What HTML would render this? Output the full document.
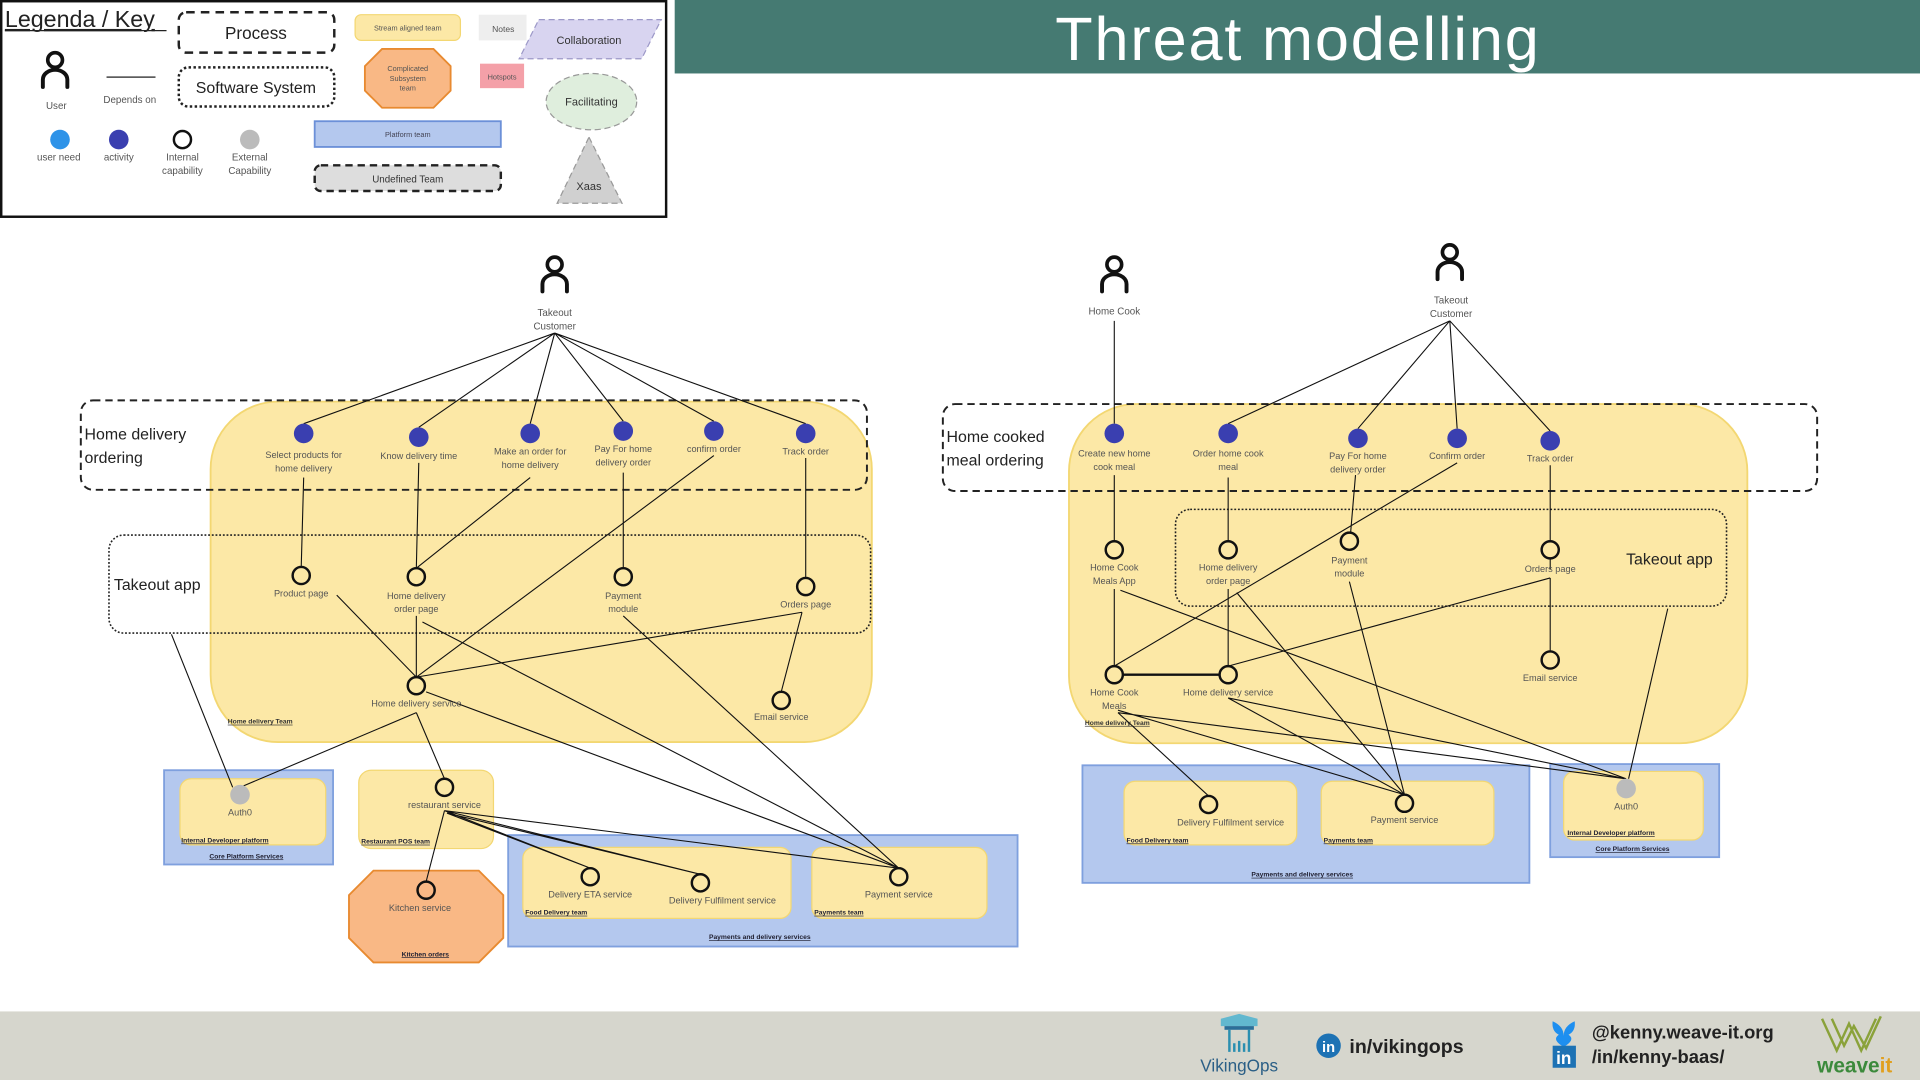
<!DOCTYPE html>
<html><head><meta charset="utf-8"><style>
html,body{margin:0;padding:0;background:#fff;}
svg{display:block;}
text{font-family:"Liberation Sans","DejaVu Sans",sans-serif;}
</style></head><body>
<svg width="1920" height="1080" viewBox="0 0 1568 882" xmlns="http://www.w3.org/2000/svg">
<defs>
<g id="user"><circle cx="0" cy="0" r="6" fill="none" stroke="#111" stroke-width="3"/><path d="M-10,22 v-6 a10,8 0 0 1 20,0 v6" fill="none" stroke="#111" stroke-width="3.2" stroke-linecap="round"/></g>
</defs>
<rect width="1568" height="882" fill="#fff"/>
<!-- header -->
<rect x="551" y="0" width="1017" height="60" fill="#457a72"/>
<text x="1060" y="49" font-size="50" letter-spacing="1.5" fill="#fff" text-anchor="middle">Threat modelling</text>
<!-- footer -->
<rect x="0" y="826" width="1568" height="56" fill="#d6d6cd"/>
<g>
<path d="M997,832 l15,-4 l15,4 v6 h-30z" fill="#62b8cf"/>
<rect x="1000" y="838" width="24" height="3" fill="#2b6f99"/>
<path d="M1004,841 v18 M1020,841 v18 M1008,852 v7 M1012,850 v9 M1016,852 v7" stroke="#2b8fb0" stroke-width="2"/>
<text x="1012" y="875" font-size="14" fill="#2b5f86" text-anchor="middle">VikingOps</text>
<circle cx="1085" cy="854" r="10" fill="#1d72b4"/><text x="1085" y="859" font-size="12" font-weight="bold" fill="#fff" text-anchor="middle">in</text>
<text x="1102" y="860" font-size="16" font-weight="bold" fill="#222">in/vikingops</text>
<path d="M1268,834 q9,4 9,12 q0,-8 9,-12 q1,8 -5,11 q6,4 -4,10 q0,-3 0,-6 q0,3 0,6 q-10,-6 -4,-10 q-6,-3 -5,-11z" fill="#1e8ff0"/>
<rect x="1268" y="854" width="19" height="18" fill="#1d72b4"/><text x="1277" y="869" font-size="14" font-weight="bold" fill="#fff" text-anchor="middle">in</text>
<text x="1300" y="848" font-size="15" font-weight="bold" fill="#222">@kenny.weave-it.org</text>
<text x="1300" y="868" font-size="15" font-weight="bold" fill="#222">/in/kenny-baas/</text>
<path d="M1488,832 l12,26 l10,-22 l10,22 l12,-26 M1496,832 l10,22 l8,-16 l10,18 l12,-26" fill="none" stroke="#8aa23a" stroke-width="2"/>
<text x="1484" y="876" font-size="17" font-weight="bold" fill="#3c8a3c">weave<tspan fill="#e0a020">it</tspan></text>
</g>

<!-- legend -->
<rect x="1" y="1" width="543" height="176" fill="#fff" stroke="#111" stroke-width="2"/>
<text x="4" y="22" font-size="19" fill="#222" text-decoration="underline">Legenda / Key</text>
<line x1="4" y1="25" x2="136" y2="25" stroke="#222" stroke-width="1"/>
<rect x="146" y="10" width="127" height="33" rx="6" fill="#fff" stroke="#222" stroke-width="2" stroke-dasharray="7,5"/>
<text x="209" y="32" font-size="14" fill="#222" text-anchor="middle">Process</text>
<rect x="146" y="55" width="127" height="32" rx="8" fill="#fff" stroke="#222" stroke-width="2" stroke-dasharray="2,2"/>
<text x="209" y="76" font-size="13" fill="#222" text-anchor="middle">Software System</text>
<use href="#user" x="45" y="49"/>
<text x="46" y="89" font-size="8" fill="#555" text-anchor="middle">User</text>
<line x1="87" y1="63" x2="127" y2="63" stroke="#444" stroke-width="1.2"/>
<text x="106" y="84" font-size="8" fill="#555" text-anchor="middle">Depends on</text>
<circle cx="49" cy="114" r="8" fill="#2e93e8"/><text x="48" y="131" font-size="8" fill="#555" text-anchor="middle">user need</text>
<circle cx="97" cy="114" r="8" fill="#3a3fb0"/><text x="97" y="131" font-size="8" fill="#555" text-anchor="middle">activity</text>
<circle cx="149" cy="114" r="7" fill="#fff" stroke="#111" stroke-width="2"/><text x="149" y="131" font-size="8" fill="#555" text-anchor="middle">Internal</text><text x="149" y="142" font-size="8" fill="#555" text-anchor="middle">capability</text>
<circle cx="204" cy="114" r="8" fill="#bbb"/><text x="204" y="131" font-size="8" fill="#555" text-anchor="middle">External</text><text x="204" y="142" font-size="8" fill="#555" text-anchor="middle">Capability</text>
<rect x="290" y="12" width="86" height="21" rx="5" fill="#fce8a6" stroke="#f3d772"/>
<text x="333" y="25" font-size="6" fill="#555" text-anchor="middle">Stream aligned team</text>
<polygon points="312,40 354,40 368,54 368,74 354,88 312,88 298,74 298,54" fill="#f9b885" stroke="#e88a30" stroke-width="1.5"/>
<text x="333" y="58" font-size="6" fill="#555" text-anchor="middle">Complicated</text><text x="333" y="66" font-size="6" fill="#555" text-anchor="middle">Subsystem</text><text x="333" y="74" font-size="6" fill="#555" text-anchor="middle">team</text>
<rect x="391" y="12" width="39" height="21" fill="#eeeeee"/><text x="411" y="26" font-size="7" fill="#555" text-anchor="middle">Notes</text>
<rect x="392" y="52" width="36" height="20" fill="#f4a0a8"/><text x="410" y="65" font-size="6" fill="#555" text-anchor="middle">Hotspots</text>
<polygon points="440,16 540,16 524,48 424,48" fill="#d8d4f0" stroke="#9c98c8" stroke-dasharray="5,3"/>
<text x="481" y="36" font-size="9" fill="#333" text-anchor="middle">Collaboration</text>
<ellipse cx="483" cy="83" rx="37" ry="23" fill="#dfeedd" stroke="#999" stroke-dasharray="5,3"/>
<text x="483" y="86" font-size="9" fill="#333" text-anchor="middle">Facilitating</text>
<rect x="257" y="99" width="152" height="21" fill="#b4c8ee" stroke="#6c90d8" stroke-width="1.5"/>
<text x="333" y="112" font-size="6" fill="#445" text-anchor="middle">Platform team</text>
<rect x="257" y="135" width="152" height="21" rx="5" fill="#ddd" stroke="#222" stroke-width="2" stroke-dasharray="6,4"/>
<text x="333" y="149" font-size="8" fill="#333" text-anchor="middle">Undefined Team</text>
<polygon points="481,112 508,166 455,166" fill="#d0d0d0" stroke="#999" stroke-dasharray="5,3"/>
<text x="481" y="155" font-size="9" fill="#333" text-anchor="middle">Xaas</text>

<!-- LEFT DIAGRAM boxes -->
<rect x="172" y="328" width="540" height="278" rx="55" fill="#fce8a6" stroke="#f3d772" stroke-width="1.5"/>
<rect x="66" y="327" width="642" height="73" rx="10" fill="none" stroke="#222" stroke-width="1.6" stroke-dasharray="6,4"/>
<rect x="89" y="437" width="622" height="80" rx="12" fill="none" stroke="#222" stroke-width="1.3" stroke-dasharray="1.5,1.5"/>
<text x="69" y="359" font-size="13" fill="#222">Home delivery</text>
<text x="69" y="378" font-size="13" fill="#222">ordering</text>
<text x="93" y="482" font-size="13" fill="#222">Takeout app</text>
<text x="186" y="591" font-size="5.5" font-weight="bold" fill="#333" text-decoration="underline">Home delivery Team</text>

<rect x="134" y="629" width="138" height="77" fill="#b4c8ee" stroke="#7fa0de" stroke-width="1.5"/>
<rect x="147" y="636" width="119" height="54" rx="9" fill="#fce8a6" stroke="#f3d772"/>
<rect x="293" y="629" width="110" height="64" rx="10" fill="#fce8a6" stroke="#f3d772"/>
<polygon points="305,711 391,711 411,731 411,766 391,786 305,786 285,766 285,731" fill="#f9b885" stroke="#e88a30" stroke-width="1.5"/>
<rect x="415" y="682" width="416" height="91" fill="#b4c8ee" stroke="#7fa0de" stroke-width="1.5"/>
<rect x="427" y="692" width="219" height="58" rx="9" fill="#fce8a6" stroke="#f3d772"/>
<rect x="663" y="692" width="143" height="58" rx="9" fill="#fce8a6" stroke="#f3d772"/>

<!-- left lines -->
<g stroke="#111" stroke-width="0.9" fill="none">
<path d="M453,272 L248,346 M453,272 L342,349 M453,272 L433,346 M453,272 L509,344 M453,272 L583,344 M453,272 L658,346"/>
<path d="M248,390 L246,463 M342,378 L340,464 M433,390 L340,464 M509,386 L509,464 M583,372 L340,553 M658,374 L658,472"/>
<path d="M275,486 L340,553 M340,503 L340,553 M655,500 L340,553 M655,500 L638,565 M345,508 L734,709 M509,503 L734,709 M348,565 L734,709"/>
<path d="M140,518 L190,643 M340,582 L196,643 M340,582 L363,636 M363,662 L348,720 M363,662 L482,709 M365,664 L482,709 M363,662 L572,714 M365,664 L572,714 M363,662 L734,709"/>
</g>
<!-- left nodes -->
<use href="#user" x="453" y="216"/>
<text x="453" y="258" font-size="8" fill="#555" text-anchor="middle">Takeout</text>
<text x="453" y="269" font-size="8" fill="#555" text-anchor="middle">Customer</text>
<g fill="#3a3fb0">
<circle cx="248" cy="354" r="8"/><circle cx="342" cy="357" r="8"/><circle cx="433" cy="354" r="8"/><circle cx="509" cy="352" r="8"/><circle cx="583" cy="352" r="8"/><circle cx="658" cy="354" r="8"/>
</g>
<g font-size="7.5" fill="#555" text-anchor="middle">
<text x="248" y="374">Select products for</text><text x="248" y="385">home delivery</text>
<text x="342" y="375">Know delivery time</text>
<text x="433" y="371">Make an order for</text><text x="433" y="382">home delivery</text>
<text x="509" y="369">Pay For home</text><text x="509" y="380">delivery order</text>
<text x="583" y="369">confirm order</text>
<text x="658" y="371">Track order</text>
<text x="246" y="487">Product page</text>
<text x="340" y="489">Home delivery</text><text x="340" y="500">order page</text>
<text x="509" y="489">Payment</text><text x="509" y="500">module</text>
<text x="658" y="496">Orders page</text>
<text x="340" y="577">Home delivery service</text>
<text x="638" y="588">Email service</text>
<text x="196" y="666">Auth0</text>
<text x="363" y="660">restaurant service</text>
<text x="343" y="744">Kitchen service</text>
<text x="482" y="733">Delivery ETA service</text>
<text x="590" y="738">Delivery Fulfilment service</text>
<text x="734" y="733">Payment service</text>
</g>
<g fill="none" stroke="#111" stroke-width="2">
<circle cx="246" cy="470" r="7"/><circle cx="340" cy="471" r="7"/><circle cx="509" cy="471" r="7"/><circle cx="658" cy="479" r="7"/>
<circle cx="340" cy="560" r="7"/><circle cx="638" cy="572" r="7"/><circle cx="363" cy="643" r="7"/><circle cx="348" cy="727" r="7"/>
<circle cx="482" cy="716" r="7"/><circle cx="572" cy="721" r="7"/><circle cx="734" cy="716" r="7"/>
</g>
<circle cx="196" cy="649" r="8" fill="#bbb"/>
<g font-size="5.5" font-weight="bold" fill="#223" text-decoration="underline">
<text x="148" y="688">Internal Developer platform</text>
<text x="171" y="701">Core Platform Services</text>
<text x="295" y="689">Restaurant POS team</text>
<text x="328" y="781">Kitchen orders</text>
<text x="429" y="747">Food Delivery team</text>
<text x="665" y="747">Payments team</text>
<text x="579" y="767">Payments and delivery services</text>
</g>

<!-- RIGHT DIAGRAM -->
<rect x="873" y="330" width="554" height="277" rx="55" fill="#fce8a6" stroke="#f3d772" stroke-width="1.5"/>
<rect x="770" y="330" width="714" height="71" rx="10" fill="none" stroke="#222" stroke-width="1.6" stroke-dasharray="6,4"/>
<rect x="960" y="416" width="450" height="79" rx="12" fill="none" stroke="#222" stroke-width="1.3" stroke-dasharray="1.5,1.5"/>
<text x="773" y="361" font-size="13" fill="#222">Home cooked</text>
<text x="773" y="380" font-size="13" fill="#222">meal ordering</text>
<text x="1328" y="461" font-size="13" fill="#222">Takeout app</text>
<text x="886" y="592" font-size="5.5" font-weight="bold" fill="#333" text-decoration="underline">Home delivery Team</text>

<rect x="884" y="625" width="365" height="96" fill="#b4c8ee" stroke="#7fa0de" stroke-width="1.5"/>
<rect x="918" y="638" width="141" height="52" rx="9" fill="#fce8a6" stroke="#f3d772"/>
<rect x="1079" y="638" width="141" height="52" rx="9" fill="#fce8a6" stroke="#f3d772"/>
<rect x="1266" y="624" width="138" height="76" fill="#b4c8ee" stroke="#7fa0de" stroke-width="1.5"/>
<rect x="1277" y="630" width="114" height="56" rx="9" fill="#fce8a6" stroke="#f3d772"/>

<g stroke="#111" stroke-width="0.9" fill="none">
<path d="M910,262 L910,346 M1184,262 L1003,346 M1184,262 L1109,350 M1184,262 L1190,350 M1184,262 L1266,352"/>
<path d="M910,388 L910,442 M1003,390 L1003,442 M1107,388 L1103,435 M1266,380 L1266,442 M1190,378 L910,544"/>
<path d="M910,481 L910,544 M1003,481 L1003,544 M1266,472 L1003,544 M1266,472 L1266,532"/>
<path d="M1266,456 L1266,465"/>
<path d="M915,482 L1328,636 M1010,484 L1147,649 M1102,475 L1147,649 M1003,570 L1147,649 M1003,570 L1328,636 M913,582 L987,650 M913,582 L1328,636 M913,580 L1147,649 M1362,497 L1330,636"/>
</g>
<line x1="917" y1="551" x2="996" y2="551" stroke="#111" stroke-width="2"/>
<use href="#user" x="910" y="216"/>
<text x="910" y="257" font-size="8" fill="#555" text-anchor="middle">Home Cook</text>
<use href="#user" x="1184" y="206"/>
<text x="1185" y="248" font-size="8" fill="#555" text-anchor="middle">Takeout</text>
<text x="1185" y="259" font-size="8" fill="#555" text-anchor="middle">Customer</text>
<g fill="#3a3fb0">
<circle cx="910" cy="354" r="8"/><circle cx="1003" cy="354" r="8"/><circle cx="1109" cy="358" r="8"/><circle cx="1190" cy="358" r="8"/><circle cx="1266" cy="360" r="8"/>
</g>
<g font-size="7.5" fill="#555" text-anchor="middle">
<text x="910" y="373">Create new home</text><text x="910" y="384">cook meal</text>
<text x="1003" y="373">Order home cook</text><text x="1003" y="384">meal</text>
<text x="1109" y="375">Pay For home</text><text x="1109" y="386">delivery order</text>
<text x="1190" y="375">Confirm order</text>
<text x="1266" y="377">Track order</text>
<text x="910" y="466">Home Cook</text><text x="910" y="477">Meals App</text>
<text x="1003" y="466">Home delivery</text><text x="1003" y="477">order page</text>
<text x="1102" y="460">Payment</text><text x="1102" y="471">module</text>
<text x="1266" y="467">Orders page</text>
<text x="1266" y="556">Email service</text>
<text x="910" y="568">Home Cook</text><text x="910" y="579">Meals</text>
<text x="1003" y="568">Home delivery service</text>
<text x="1005" y="674">Delivery Fulfilment service</text>
<text x="1147" y="672">Payment service</text>
<text x="1328" y="661">Auth0</text>
</g>
<g fill="none" stroke="#111" stroke-width="2">
<circle cx="910" cy="449" r="7"/><circle cx="1003" cy="449" r="7"/><circle cx="1102" cy="442" r="7"/><circle cx="1266" cy="449" r="7"/>
<circle cx="1266" cy="539" r="7"/><circle cx="910" cy="551" r="7"/><circle cx="1003" cy="551" r="7"/>
<circle cx="987" cy="657" r="7"/><circle cx="1147" cy="656" r="7"/>
</g>
<circle cx="1328" cy="644" r="8" fill="#bbb"/>
<g font-size="5.5" font-weight="bold" fill="#223" text-decoration="underline">
<text x="920" y="688">Food Delivery team</text>
<text x="1081" y="688">Payments team</text>
<text x="1022" y="716">Payments and delivery services</text>
<text x="1280" y="682">Internal Developer platform</text>
<text x="1303" y="695">Core Platform Services</text>
</g>
</svg>
</body></html>
